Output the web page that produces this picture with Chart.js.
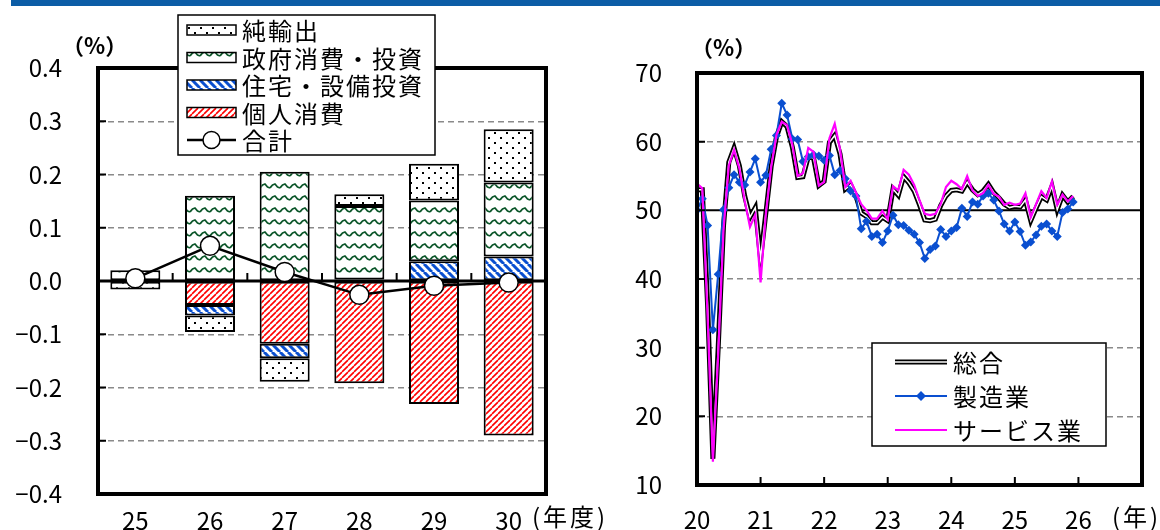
<!DOCTYPE html>
<html lang="ja">
<head>
<meta charset="utf-8">
<script src="https://cdn.jsdelivr.net/npm/chart.js@4.4.1/dist/chart.umd.min.js"></script>
<style>
  html, body { margin: 0; padding: 0; background: #fff; }
  body { width: 1160px; height: 530px; position: relative; overflow: hidden; }
  #topbar { position: absolute; left: 11px; top: 0; width: 1149px; height: 6px; background: #0c5da6; }
  #left { position: absolute; left: 0; top: 0; }
  #right { position: absolute; left: 600px; top: 0; }
</style>
</head>
<body>
<div id="topbar"></div>
<canvas id="left" width="640" height="530"></canvas>
<canvas id="right" width="560" height="530"></canvas>
<script>
// left: contributions by fiscal year (%)
const fiscalYears = ['25', '26', '27', '28', '29', '30'];
const consumption = [null, -0.045, -0.118, -0.192, -0.231, -0.290];
const housingCapex = [null, -0.020, -0.027, 0.003, 0.037, 0.046];
const government = [0.020, 0.160, 0.205, 0.138, 0.114, 0.139];
const netExports = [-0.016, -0.031, -0.044, 0.022, 0.069, 0.100];
const totalGrowth = [0.005, 0.066, 0.017, -0.026, -0.009, -0.003];
const leftLegend = ['純輸出', '政府消費・投資', '住宅・設備投資', '個人消費', '合計'];

// right: monthly index, Jan 2020 - Dec 2025
const calYears = ['20', '21', '22', '23', '24', '25', '26'];
const composite = [
  53.0, 53.0, 36.2, 13.8, 30.0, 47.7, 57.0, 59.1, 56.5, 52.1, 49.0, 50.4,
  43.0, 49.6, 56.4, 60.7, 62.9, 62.2, 59.2, 54.8, 54.9, 57.8, 57.6, 53.6,
  54.2, 59.9, 60.9, 58.2, 53.1, 53.7, 52.1, 49.6, 49.1, 48.2, 48.2, 49.0,
  48.5, 53.1, 52.2, 54.9, 54.0, 52.8, 50.8, 48.6, 48.5, 48.7, 50.7, 52.1,
  52.9, 53.0, 52.8, 54.1, 53.0, 52.3, 52.8, 53.8, 52.6, 51.8, 50.9, 50.4,
  50.6, 50.5, 51.5, 48.5, 50.3, 52.0, 51.5, 53.5, 50.1, 52.2, 51.2, 52.0
];
const manufacturing = [
  50.0, 51.7, 47.8, 32.6, 40.7, 50.1, 53.3, 55.2, 54.1, 53.7, 55.6, 57.5,
  54.1, 55.1, 58.9, 60.9, 65.6, 63.9, 60.4, 60.3, 57.1, 57.8, 58.1, 57.9,
  57.3, 58.0, 55.2, 55.8, 54.6, 52.8, 52.1, 47.3, 48.4, 46.2, 46.5, 45.3,
  47.0, 49.3, 47.9, 47.8, 47.1, 46.5, 45.3, 43.0, 44.3, 44.8, 47.2, 46.2,
  47.0, 47.5, 50.3, 49.1, 51.2, 50.9, 52.1, 52.5, 51.5, 49.9, 48.0, 47.0,
  48.3, 46.9, 44.9, 45.4, 46.4, 47.7, 48.0, 47.0, 46.2, 49.7, 50.2, 51.2
];
const services = [
  53.9, 53.2, 34.5, 13.4, 29.0, 47.1, 56.5, 58.8, 56.1, 51.4, 47.6, 49.4,
  39.5, 49.5, 56.3, 61.0, 62.9, 62.4, 59.6, 55.0, 55.4, 59.1, 58.5, 53.6,
  54.1, 60.5, 62.6, 58.9, 53.4, 54.3, 52.6, 50.9, 50.0, 48.8, 48.8, 49.9,
  48.7, 53.5, 52.9, 55.9, 55.2, 53.7, 51.5, 49.5, 49.3, 49.5, 50.9, 53.4,
  54.3, 53.8, 53.1, 55.0, 52.9, 52.1, 52.5, 53.7, 52.4, 52.0, 50.8, 51.1,
  50.8, 51.0, 52.5, 49.0, 50.9, 52.8, 51.8, 54.2, 50.8, 52.3, 51.3, 52.1
];
const rightLegend = ['総合', '製造業', 'サービス業'];

const FONT = "'Noto Sans CJK JP', 'Noto Sans', sans-serif";
Chart.defaults.font.family = FONT;
Chart.defaults.color = '#000';

const BLUE = '#0a4fd0';
const MAGENTA = '#ff00ff';

const lctx = document.getElementById('left').getContext('2d');
const rctx = document.getElementById('right').getContext('2d');

function pattern(ctx, w, h, paint) {
  const c = document.createElement('canvas');
  c.width = w;
  c.height = h;
  const g = c.getContext('2d');
  g.fillStyle = '#fff';
  g.fillRect(0, 0, w, h);
  paint(g);
  return ctx.createPattern(c, 'repeat');
}

const dotsFill = pattern(lctx, 12, 10, g => {
  g.fillStyle = '#000';
  g.fillRect(2, 2, 2, 2);
  g.fillRect(8, 7, 2, 2);
});
const waveFill = pattern(lctx, 10, 12, g => {
  g.strokeStyle = '#0a5528';
  g.lineWidth = 1.8;
  g.lineJoin = 'round';
  g.beginPath();
  g.moveTo(0, 8);
  g.lineTo(2.5, 5);
  g.lineTo(5, 4);
  g.lineTo(7.5, 7);
  g.lineTo(10, 8);
  g.stroke();
});
const stripeFill = pattern(lctx, 8, 8, g => {
  g.strokeStyle = BLUE;
  g.lineWidth = 3;
  g.beginPath();
  for (const k of [-8, 0, 8]) { g.moveTo(k, 0); g.lineTo(k + 8, 8); }
  g.stroke();
});
const redFill = pattern(lctx, 6, 6, g => {
  g.strokeStyle = '#ff0000';
  g.lineWidth = 1.6;
  g.beginPath();
  for (const k of [0, 6, 12]) { g.moveTo(k, 0); g.lineTo(k - 6, 6); }
  g.stroke();
});

function frame(ctx, a) {
  ctx.save();
  ctx.strokeStyle = '#000';
  ctx.lineWidth = 4;
  ctx.strokeRect(a.left, a.top, a.right - a.left, a.bottom - a.top);
  ctx.restore();
}

function innerYTicks(ctx, a, scale) {
  ctx.save();
  ctx.strokeStyle = '#000';
  ctx.lineWidth = 2;
  ctx.beginPath();
  scale.ticks.forEach(t => {
    const py = scale.getPixelForValue(t.value);
    ctx.moveTo(a.left, py);
    ctx.lineTo(a.left + 8, py);
  });
  ctx.stroke();
  ctx.restore();
}

function text(ctx, str, x, y, font, spacing) {
  ctx.save();
  ctx.font = font + ' ' + FONT;
  ctx.fillStyle = '#000';
  ctx.textBaseline = 'middle';
  ctx.textAlign = 'left';
  if (spacing) ctx.letterSpacing = spacing + 'px';
  ctx.fillText(str, x, y);
  ctx.restore();
}

// keep the plot box where it is: no extra room for half tick labels
function noScalePadding(s) {
  s.paddingTop = 0;
  s.paddingBottom = 0;
  s.paddingLeft = 0;
  s.paddingRight = 0;
}

const leftDecor = {
  id: 'leftDecor',
  beforeDatasetDraw(chart, args) {
    if (args.meta.type !== 'line') return;
    const {ctx, chartArea: a, scales: {x, y}} = chart;
    const y0 = y.getPixelForValue(0);
    ctx.save();
    ctx.strokeStyle = '#000';
    ctx.lineWidth = 3;
    ctx.beginPath();
    ctx.moveTo(a.left, y0);
    ctx.lineTo(a.right, y0);
    ctx.stroke();
    ctx.lineWidth = 2;
    ctx.beginPath();
    for (let i = 1; i < fiscalYears.length; i++) {
      const px = (x.getPixelForValue(i - 1) + x.getPixelForValue(i)) / 2;
      ctx.moveTo(px, y0);
      ctx.lineTo(px, y0 - 8);
    }
    ctx.stroke();
    ctx.restore();
  },
  afterDraw(chart) {
    const {ctx, chartArea: a, scales: {y}} = chart;
    innerYTicks(ctx, a, y);
    frame(ctx, a);
    text(ctx, '（%）', a.left - 36, a.top - 22, '600 22px');
    text(ctx, '(年度)', a.right - 14, a.bottom + 23, '24px', 3);

    // legend box
    const bx = a.left + 80, by = a.top - 53, bw = 257, bh = 140;
    ctx.save();
    ctx.fillStyle = '#fff';
    ctx.fillRect(bx, by, bw, bh);
    ctx.strokeStyle = '#000';
    ctx.lineWidth = 1.5;
    ctx.strokeRect(bx, by, bw, bh);
    leftLegend.forEach((label, i) => {
      const ds = chart.data.datasets.find(d => d.label === label);
      const cy = by + 15 + i * 27.5;
      const sx = bx + 9, sw = 49;
      if (ds.type === 'line') {
        ctx.strokeStyle = '#000';
        ctx.lineWidth = 2.5;
        ctx.beginPath();
        ctx.moveTo(sx, cy);
        ctx.lineTo(sx + sw, cy);
        ctx.stroke();
        ctx.beginPath();
        ctx.arc(sx + sw / 2, cy, 8.5, 0, Math.PI * 2);
        ctx.fillStyle = '#fff';
        ctx.fill();
        ctx.lineWidth = 1.5;
        ctx.stroke();
      } else {
        ctx.fillStyle = ds.backgroundColor;
        ctx.fillRect(sx, cy - 5, sw, 10);
        ctx.strokeStyle = '#000';
        ctx.lineWidth = 1.5;
        ctx.strokeRect(sx, cy - 5, sw, 10);
      }
      text(ctx, label, sx + sw + 6, cy + 1, '24px', 2);
    });
    ctx.restore();
  }
};

new Chart(lctx, {
  type: 'bar',
  data: {
    labels: fiscalYears,
    datasets: [
      { type: 'line', label: '合計', data: totalGrowth, stack: 'total', order: 0,
        borderColor: '#000', borderWidth: 2.5, pointRadius: 9.5,
        pointBackgroundColor: '#fff', pointBorderColor: '#000', pointBorderWidth: 1.5 },
      { label: '個人消費', data: consumption, backgroundColor: redFill, stack: 'gdp', order: 1 },
      { label: '住宅・設備投資', data: housingCapex, backgroundColor: stripeFill, stack: 'gdp', order: 1 },
      { label: '政府消費・投資', data: government, backgroundColor: waveFill, stack: 'gdp', order: 1 },
      { label: '純輸出', data: netExports, backgroundColor: dotsFill, stack: 'gdp', order: 1 }
    ]
  },
  options: {
    responsive: false,
    animation: false,
    events: [],
    layout: { padding: { top: 68, right: 94, left: 0, bottom: 0 } },
    elements: { bar: { borderColor: '#000', borderWidth: 2, borderSkipped: false } },
    datasets: { bar: { categoryPercentage: 1, barPercentage: 0.67 } },
    plugins: { legend: { display: false }, tooltip: { enabled: false } },
    scales: {
      x: {
        stacked: true,
        grid: { display: false, drawTicks: false },
        border: { display: false },
        ticks: { font: { size: 24 }, color: '#000', padding: 12, maxRotation: 0 },
        afterFit(s) { s.height = 36; noScalePadding(s); }
      },
      y: {
        stacked: true,
        min: -0.4,
        max: 0.4,
        ticks: {
          stepSize: 0.1,
          padding: 36,
          font: { size: 24 },
          color: '#000',
          callback: v => (Math.abs(v) < 1e-9 ? '0.0' : v.toFixed(1)).replace('-', '−')
        },
        grid: {
          drawTicks: false,
          lineWidth: 1.5,
          color: c => (Math.abs(c.tick.value) < 1e-9 || Math.abs(Math.abs(c.tick.value) - 0.4) < 1e-9) ? 'rgba(0,0,0,0)' : '#8a8a8a'
        },
        border: { display: false, dash: [6, 4] },
        afterFit(s) { s.width = 98; noScalePadding(s); }
      }
    }
  },
  plugins: [leftDecor]
});

// right chart
const monthPos = composite.map((_, i) => 20 + i / 12);
const toXY = arr => arr.map((v, i) => ({ x: monthPos[i], y: v }));

const rightDecor = {
  id: 'rightDecor',
  beforeDatasetsDraw(chart) {
    const {ctx, chartArea: a, scales: {y}} = chart;
    const y50 = y.getPixelForValue(50);
    ctx.save();
    ctx.strokeStyle = '#000';
    ctx.lineWidth = 2;
    ctx.beginPath();
    ctx.moveTo(a.left, y50);
    ctx.lineTo(a.right, y50);
    ctx.stroke();
    ctx.restore();
  },
  afterDraw(chart) {
    const {ctx, chartArea: a, scales: {x, y}} = chart;
    innerYTicks(ctx, a, y);
    ctx.save();
    ctx.strokeStyle = '#000';
    ctx.lineWidth = 2;
    ctx.beginPath();
    x.ticks.forEach(t => {
      const px = x.getPixelForValue(t.value);
      ctx.moveTo(px, a.bottom);
      ctx.lineTo(px, a.bottom - 8);
    });
    ctx.stroke();
    ctx.restore();
    frame(ctx, a);
    text(ctx, '（%）', a.left - 6, a.top - 25, '600 22px');
    text(ctx, '(年)', a.right - 30, a.bottom + 32, '24px', 3);

    // legend box
    const bx = a.left + 175, by = a.top + 270, bw = 234, bh = 103;
    ctx.save();
    ctx.fillStyle = '#fff';
    ctx.fillRect(bx, by, bw, bh);
    ctx.strokeStyle = '#000';
    ctx.lineWidth = 1.5;
    ctx.strokeRect(bx, by, bw, bh);
    rightLegend.forEach((label, i) => {
      const cy = by + 19 + i * 34;
      const sx = bx + 23, sw = 52;
      ctx.beginPath();
      ctx.moveTo(sx, cy);
      ctx.lineTo(sx + sw, cy);
      if (i === 0) {
        ctx.strokeStyle = '#000';
        ctx.lineWidth = 5;
        ctx.stroke();
        ctx.strokeStyle = '#fff';
        ctx.lineWidth = 1.5;
        ctx.stroke();
      } else if (i === 1) {
        ctx.strokeStyle = BLUE;
        ctx.lineWidth = 2;
        ctx.stroke();
        ctx.fillStyle = BLUE;
        ctx.beginPath();
        const mx = sx + sw / 2;
        ctx.moveTo(mx, cy - 5);
        ctx.lineTo(mx + 5, cy);
        ctx.lineTo(mx, cy + 5);
        ctx.lineTo(mx - 5, cy);
        ctx.closePath();
        ctx.fill();
      } else {
        ctx.strokeStyle = MAGENTA;
        ctx.lineWidth = 2.2;
        ctx.stroke();
      }
      text(ctx, label, sx + sw + 6, cy + 1, '24px', 2);
    });
    ctx.restore();
  }
};

new Chart(rctx, {
  type: 'line',
  data: {
    datasets: [
      { label: 'サービス業', data: toXY(services), order: 0,
        borderColor: MAGENTA, borderWidth: 2.2, pointRadius: 0 },
      { label: '製造業', data: toXY(manufacturing), order: 1,
        borderColor: BLUE, borderWidth: 2, pointStyle: 'rectRot', pointRadius: 4.5,
        pointBackgroundColor: BLUE, pointBorderColor: BLUE, pointBorderWidth: 0 },
      { label: '総合', data: toXY(composite), order: 2,
        borderColor: '#fff', borderWidth: 1.5, pointRadius: 0 },
      { label: '総合', data: toXY(composite), order: 3,
        borderColor: '#000', borderWidth: 5, pointRadius: 0 }
    ]
  },
  options: {
    responsive: false,
    animation: false,
    events: [],
    layout: { padding: { top: 73, right: 18, left: 0, bottom: 0 } },
    plugins: { legend: { display: false }, tooltip: { enabled: false } },
    scales: {
      x: {
        type: 'linear',
        min: 20,
        max: 27,
        ticks: {
          stepSize: 1,
          padding: 20,
          maxRotation: 0,
          font: { size: 24 },
          color: '#000',
          callback: v => calYears[v - 20] || ''
        },
        grid: { display: false, drawTicks: false },
        border: { display: false },
        afterFit(s) { s.height = 45; noScalePadding(s); }
      },
      y: {
        min: 10,
        max: 70,
        ticks: { stepSize: 10, padding: 35, font: { size: 24 }, color: '#000' },
        grid: {
          drawTicks: false,
          lineWidth: 1.5,
          color: c => [20, 30, 40, 60].includes(c.tick.value) ? '#8a8a8a' : 'rgba(0,0,0,0)'
        },
        border: { display: false, dash: [6, 4] },
        afterFit(s) { s.width = 97; noScalePadding(s); }
      }
    }
  },
  plugins: [rightDecor]
});
</script>
</body>
</html>
